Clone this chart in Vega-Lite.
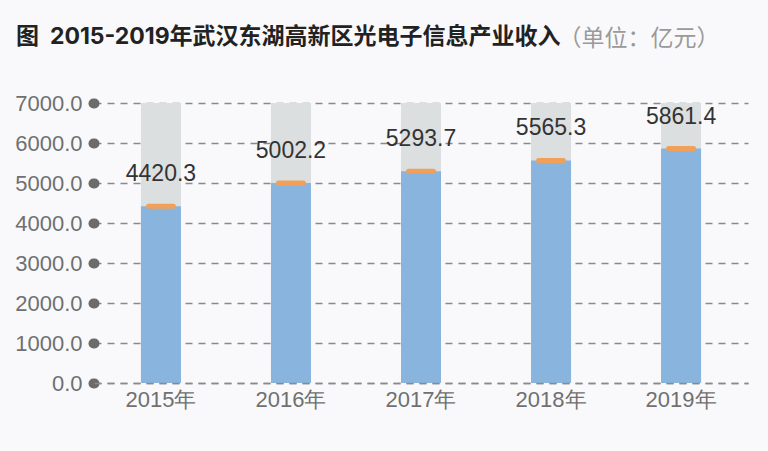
{
  "$schema": "https://vega.github.io/schema/vega-lite/v6.json",
  "width": 654,
  "height": 280,
  "autosize": {"type": "none"},
  "padding": {"left": 94, "top": 103, "right": 20, "bottom": 68},
  "background": "#f9f9fb",
  "title": {
    "text": "图\u00a0\u00a02015-2019年武汉东湖高新区光电子信息产业收入",
    "anchor": "start",
    "frame": "group",
    "dx": -78,
    "offset": -22,
    "font": "Inter, Noto Sans CJK SC",
    "fontSize": 23,
    "fontWeight": "bold",
    "color": "#222222"
  },
  "config": {"view": {"stroke": null}},
  "data": {
    "values": [
      {"year": "2015年", "value": 4420.3},
      {"year": "2016年", "value": 5002.2},
      {"year": "2017年", "value": 5293.7},
      {"year": "2018年", "value": 5565.3},
      {"year": "2019年", "value": 5861.4}
    ]
  },
  "encoding": {
    "x": {
      "field": "year",
      "type": "nominal",
      "scale": {"paddingInner": 0.6923, "paddingOuter": 0.361},
      "axis": {
        "title": null,
        "labelAngle": 0,
        "labelFont": "Liberation Sans",
        "labelFontSize": 22,
        "labelColor": "#707070",
        "labelPadding": 6,
        "ticks": false,
        "domain": true,
        "domainDash": [7, 6],
        "domainColor": "#8a8a8a",
        "domainWidth": 1.3,
        "zindex": 1
      }
    }
  },
  "layer": [
    {
      "mark": {"type": "bar", "color": "#dcdfe0"},
      "encoding": {
        "y": {
          "datum": 7000,
          "type": "quantitative",
          "scale": {"domain": [0, 7000]},
          "axis": {
            "values": [0, 1000, 2000, 3000, 4000, 5000, 6000, 7000],
            "format": ".1f",
            "labelOverlap": false,
            "title": "（单位：亿元）",
            "titleAngle": 0,
            "titleAlign": "left",
            "titleBaseline": "middle",
            "titleX": 464,
            "titleY": -65,
            "titleFont": "Noto Sans CJK SC",
            "titleFontSize": 23,
            "titleFontWeight": "normal",
            "titleColor": "#9a9a9a",
            "labelFont": "Liberation Sans",
            "labelFontSize": 22,
            "labelColor": "#707070",
            "labelPadding": 11,
            "domain": false,
            "ticks": true,
            "tickSize": 1,
            "tickWidth": 10,
            "tickCap": "round",
            "tickColor": "#6b6b6b",
            "grid": true,
            "gridDash": [7, 6],
            "gridColor": "#8a8a8a",
            "gridWidth": 1.3
          }
        }
      }
    },
    {
      "mark": {"type": "bar", "color": "#88b4de"},
      "encoding": {
        "y": {
          "field": "value",
          "type": "quantitative",
          "axis": {
            "values": [0, 1000, 2000, 3000, 4000, 5000, 6000, 7000],
            "format": ".1f",
            "labelOverlap": false,
            "title": "（单位：亿元）",
            "titleAngle": 0,
            "titleAlign": "left",
            "titleBaseline": "middle",
            "titleX": 464,
            "titleY": -65,
            "titleFont": "Noto Sans CJK SC",
            "titleFontSize": 23,
            "titleFontWeight": "normal",
            "titleColor": "#9a9a9a",
            "labelFont": "Liberation Sans",
            "labelFontSize": 22,
            "labelColor": "#707070",
            "labelPadding": 11,
            "domain": false,
            "ticks": true,
            "tickSize": 1,
            "tickWidth": 10,
            "tickCap": "round",
            "tickColor": "#6b6b6b",
            "grid": true,
            "gridDash": [7, 6],
            "gridColor": "#8a8a8a",
            "gridWidth": 1.3
          }
        }
      }
    },
    {
      "mark": {"type": "tick", "color": "#f0a05a", "size": 30, "thickness": 5, "cornerRadius": 2.5, "opacity": 1},
      "encoding": {
        "y": {
          "field": "value",
          "type": "quantitative",
          "axis": {
            "values": [0, 1000, 2000, 3000, 4000, 5000, 6000, 7000],
            "format": ".1f",
            "labelOverlap": false,
            "title": "（单位：亿元）",
            "titleAngle": 0,
            "titleAlign": "left",
            "titleBaseline": "middle",
            "titleX": 464,
            "titleY": -65,
            "titleFont": "Noto Sans CJK SC",
            "titleFontSize": 23,
            "titleFontWeight": "normal",
            "titleColor": "#9a9a9a",
            "labelFont": "Liberation Sans",
            "labelFontSize": 22,
            "labelColor": "#707070",
            "labelPadding": 11,
            "domain": false,
            "ticks": true,
            "tickSize": 1,
            "tickWidth": 10,
            "tickCap": "round",
            "tickColor": "#6b6b6b",
            "grid": true,
            "gridDash": [7, 6],
            "gridColor": "#8a8a8a",
            "gridWidth": 1.3
          }
        }
      }
    },
    {
      "mark": {"type": "text", "dy": -32, "font": "Liberation Sans", "fontSize": 23, "color": "#333333"},
      "encoding": {
        "y": {
          "field": "value",
          "type": "quantitative",
          "axis": {
            "values": [0, 1000, 2000, 3000, 4000, 5000, 6000, 7000],
            "format": ".1f",
            "labelOverlap": false,
            "title": "（单位：亿元）",
            "titleAngle": 0,
            "titleAlign": "left",
            "titleBaseline": "middle",
            "titleX": 464,
            "titleY": -65,
            "titleFont": "Noto Sans CJK SC",
            "titleFontSize": 23,
            "titleFontWeight": "normal",
            "titleColor": "#9a9a9a",
            "labelFont": "Liberation Sans",
            "labelFontSize": 22,
            "labelColor": "#707070",
            "labelPadding": 11,
            "domain": false,
            "ticks": true,
            "tickSize": 1,
            "tickWidth": 10,
            "tickCap": "round",
            "tickColor": "#6b6b6b",
            "grid": true,
            "gridDash": [7, 6],
            "gridColor": "#8a8a8a",
            "gridWidth": 1.3
          }
        },
        "text": {"field": "value", "type": "quantitative", "format": ".1f"}
      }
    }
  ]
}
